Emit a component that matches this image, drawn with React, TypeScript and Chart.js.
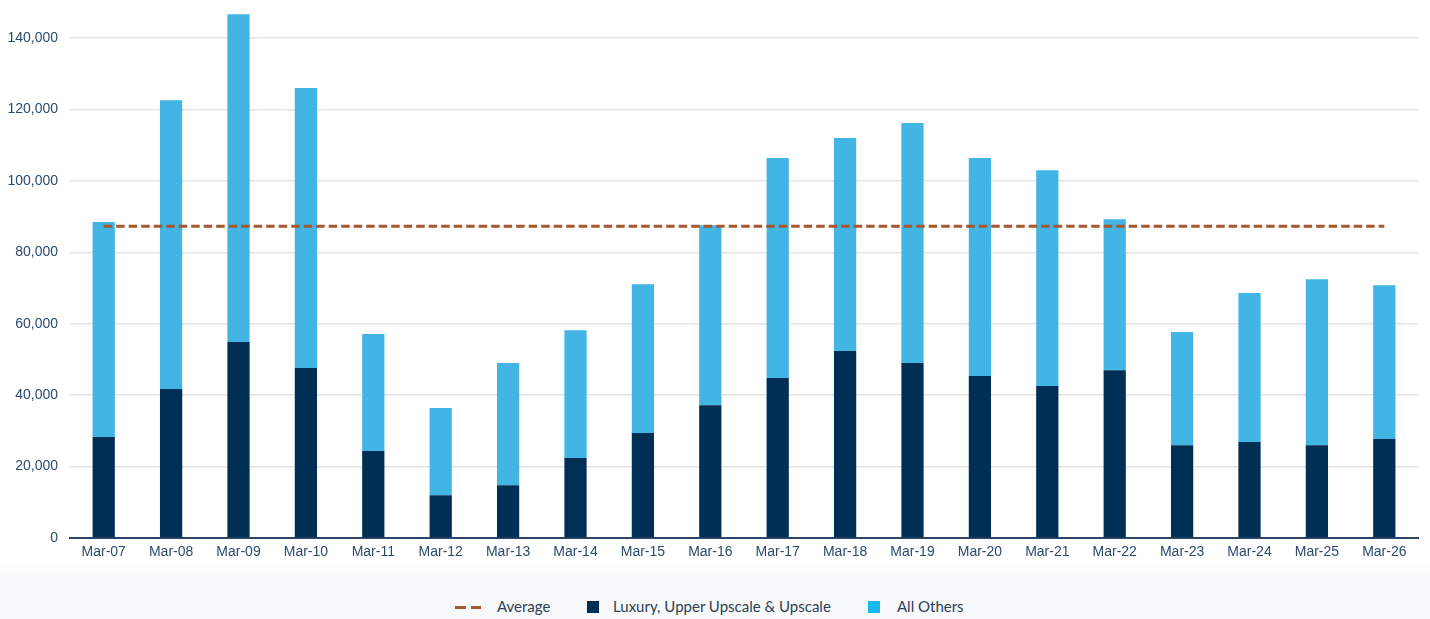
import React, { useEffect, useRef } from "react";
import { Chart, registerables } from "chart.js";

Chart.register(...registerables);

const categories = [
  "Mar-07", "Mar-08", "Mar-09", "Mar-10", "Mar-11", "Mar-12", "Mar-13", "Mar-14", "Mar-15", "Mar-16",
  "Mar-17", "Mar-18", "Mar-19", "Mar-20", "Mar-21", "Mar-22", "Mar-23", "Mar-24", "Mar-25", "Mar-26",
];

const totals = [
  88500, 122600, 146700, 126000, 57100, 36400, 49000, 58200, 71100, 87600,
  106400, 112000, 116200, 106400, 103000, 89300, 57700, 68600, 72500, 70800,
];

const luxuryUpscale = [
  28300, 41700, 54900, 47600, 24400, 12000, 14800, 22400, 29400, 37200,
  44800, 52400, 49000, 45400, 42600, 47000, 26000, 26900, 26000, 27700,
];

const allOthers = totals.map((t, i) => t - luxuryUpscale[i]);

const averageValue = 87300;
const average = categories.map(() => averageValue);

const yTicks = [0, 20000, 40000, 60000, 80000, 100000, 120000, 140000];

const NAVY = "#002f56";
const LIGHT = "#42b5e5";
const LIGHT_SWATCH = "#17b8ee";
const AVG = "#a5572d";
const TICK_COLOR = "#2b4a6e";

export default function App() {
  const canvasRef = useRef<HTMLCanvasElement | null>(null);

  useEffect(() => {
    const canvas = canvasRef.current;
    if (!canvas) return;
    const chart = new Chart(canvas, {
      type: "bar",
      data: {
        labels: categories,
        datasets: [
          {
            type: "line",
            label: "Average",
            data: average,
            borderColor: AVG,
            borderWidth: 3,
            borderDash: [8.5, 4],
            pointRadius: 0,
            fill: false,
            stack: "avg",
            order: 0,
          } as any,
          {
            label: "Luxury, Upper Upscale & Upscale",
            data: luxuryUpscale,
            backgroundColor: NAVY,
            stack: "bars",
            order: 1,
            barPercentage: 0.33,
            categoryPercentage: 1,
          },
          {
            label: "All Others",
            data: allOthers,
            backgroundColor: LIGHT,
            stack: "bars",
            order: 1,
            barPercentage: 0.33,
            categoryPercentage: 1,
          },
        ],
      },
      options: {
        animation: false,
        responsive: false,
        maintainAspectRatio: false,
        layout: { padding: { left: 0, right: 12, top: 0, bottom: 0 } },
        plugins: {
          legend: { display: false },
          tooltip: { enabled: false },
        },
        scales: {
          x: {
            stacked: true,
            offset: true,
            grid: { display: false, drawTicks: false },
            border: { display: true, color: "#2a4566", width: 2 },
            ticks: {
              color: TICK_COLOR,
              font: { family: "'Liberation Sans', Arial, sans-serif", size: 14 },
              padding: 6,
              maxRotation: 0,
              autoSkip: false,
            },
            afterFit: (scale: any) => {
              scale.height = 32;
            },
          },
          y: {
            stacked: true,
            min: 0,
            max: 150000,
            grid: { color: "#e3e3e3", lineWidth: 1.5, drawTicks: false },
            border: { display: false },
            afterBuildTicks: (scale: any) => {
              scale.ticks = yTicks.map((v) => ({ value: v }));
            },
            ticks: {
              color: TICK_COLOR,
              font: { family: "'Liberation Sans', Arial, sans-serif", size: 14 },
              padding: 12,
              callback: (v: any) => Number(v).toLocaleString("en-US"),
            },
            afterFit: (scale: any) => {
              scale.width = 70;
            },
          },
        },
      },
    });
    return () => chart.destroy();
  }, []);

  const legendText: React.CSSProperties = {
    fontFamily: "Lato, 'Open Sans', sans-serif",
    fontSize: 15,
    color: "#2c3e57",
    whiteSpace: "nowrap",
  };

  return (
    <div
      style={{
        position: "absolute",
        left: 0,
        top: 0,
        width: 1430,
        height: 619,
        overflow: "hidden",
        background:
          "linear-gradient(to bottom, #ffffff 0px, #ffffff 558px, #f8f9fa 580px, #f8f9fa 619px)",
      }}
    >
      <canvas
        ref={canvasRef}
        width={1430}
        height={588}
        style={{ position: "absolute", left: 0, top: -18, display: "block", width: 1430, height: 588 }}
      />
      <div
        style={{
          position: "absolute",
          top: 597,
          left: 0,
          width: 1430,
          height: 20,
        }}
      >
        <div style={{ position: "absolute", left: 455, top: 9, width: 26, height: 3, display: "flex", gap: 5 }}>
          <span style={{ width: 10.5, height: 3, background: AVG }} />
          <span style={{ width: 10.5, height: 3, background: AVG }} />
        </div>
        <span style={{ ...legendText, position: "absolute", left: 497, top: 0 }}>Average</span>
        <span style={{ position: "absolute", left: 587, top: 4, width: 12, height: 12, background: NAVY }} />
        <span style={{ ...legendText, position: "absolute", left: 613, top: 0 }}>Luxury, Upper Upscale &amp; Upscale</span>
        <span style={{ position: "absolute", left: 868, top: 4, width: 12, height: 12, background: LIGHT_SWATCH }} />
        <span style={{ ...legendText, position: "absolute", left: 897, top: 0 }}>All Others</span>
      </div>
    </div>
  );
}
